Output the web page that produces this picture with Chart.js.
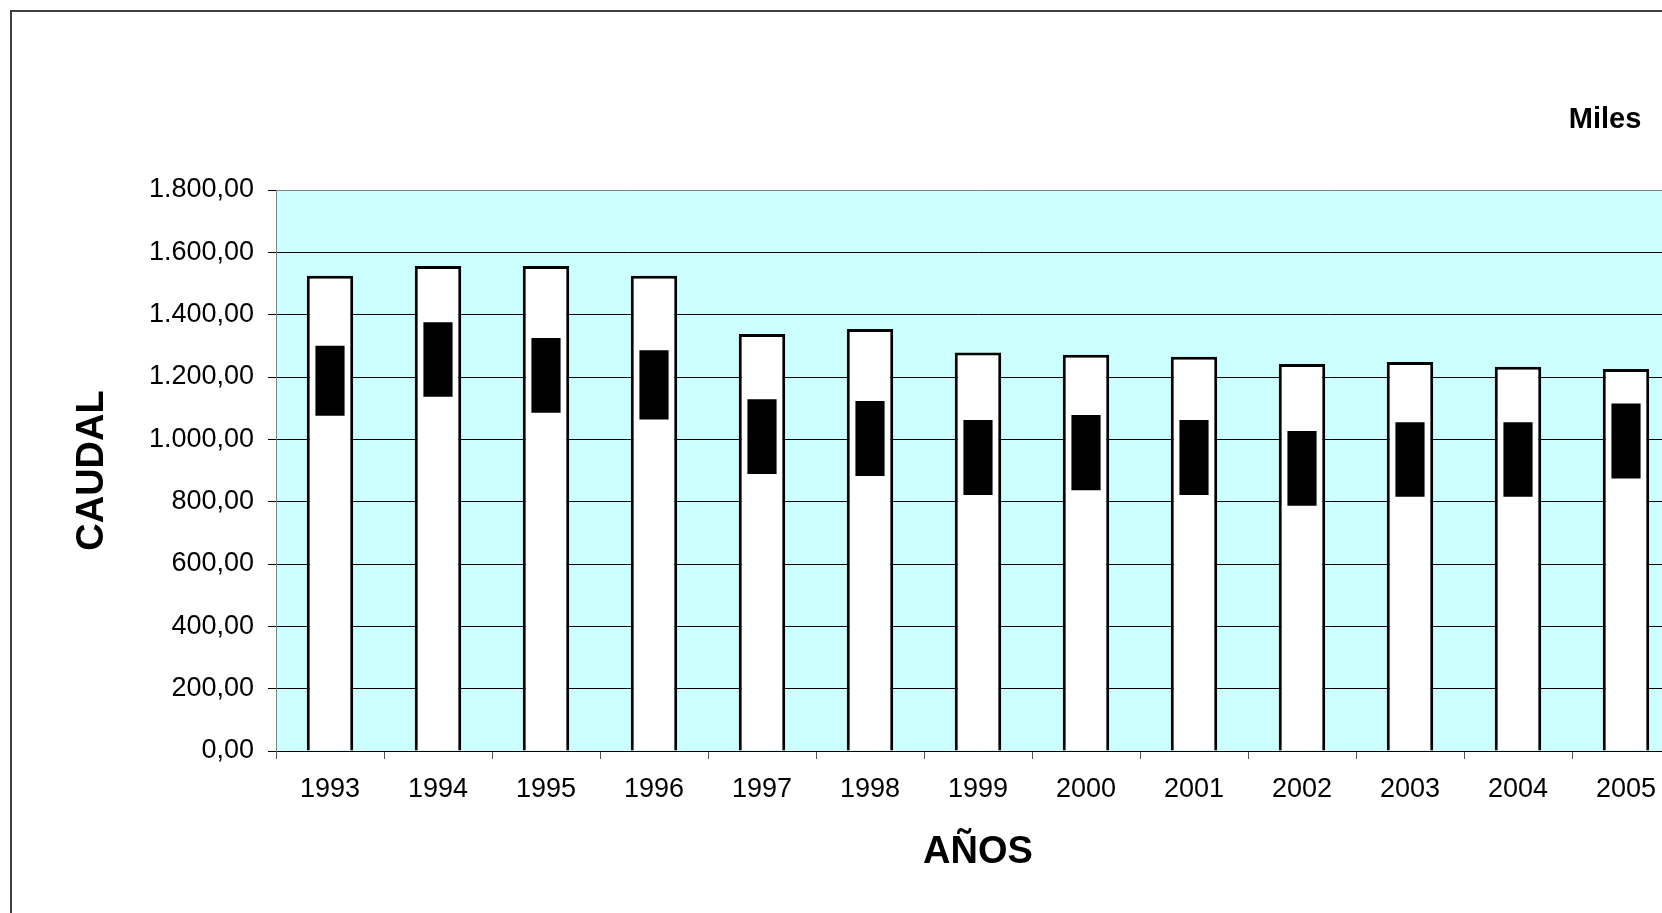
<!DOCTYPE html>
<html>
<head>
<meta charset="utf-8">
<title>Caudal por años</title>
<script src="https://cdn.jsdelivr.net/npm/chart.js@4.4.0/dist/chart.umd.min.js"></script>
<style>
  html, body { margin: 0; padding: 0; background: #fff; overflow: hidden; }
  #marco { position: absolute; left: 10px; top: 10px; width: 2000px; height: 2000px;
           border-left: 2px solid #404040; border-top: 2px solid #404040; }
  #caja { position: absolute; left: 0; top: 0; width: 1700px; height: 913px; }
  #miles { position: absolute; left: 1550px; top: 102px; width: 110px; line-height: 32px;
           text-align: center; font: bold 29px "Liberation Sans", Arial, sans-serif; color: #000; }
</style>
</head>
<body>
<div id="marco"></div>
<div id="caja"><canvas id="grafico"></canvas></div>
<div id="miles">Miles</div>
<script>
const years = ['1993', '1994', '1995', '1996', '1997', '1998', '1999', '2000', '2001', '2002', '2003', '2004', '2005'];
// columna blanca (caudal total)
const caudalTotal = [1525, 1556, 1556, 1525, 1338, 1354, 1279, 1271, 1265, 1242, 1248, 1233, 1226];
// barra negra: máximo y mínimo
const caudalAlto = [1300, 1376, 1325, 1286, 1129, 1123, 1062, 1078, 1062, 1027, 1055, 1055, 1115];
const caudalBajo = [1076, 1137, 1085, 1064, 889, 882, 821, 837, 821, 787, 816, 816, 874];

const yMax = 1800;
const yStep = 200;

function formatoES(v) {
  const partes = v.toFixed(2).split('.');
  return partes[0].replace(/\B(?=(\d{3})+(?!\d))/g, '.') + ',' + partes[1];
}

// fondo celeste del área de trazado
const fondoArea = {
  id: 'fondoArea',
  beforeDraw(chart) {
    const { ctx, chartArea: a } = chart;
    ctx.save();
    ctx.fillStyle = '#CCFFFF';
    ctx.fillRect(a.left, a.top, a.right - a.left, a.bottom - a.top);
    ctx.restore();
  }
};

Chart.defaults.font.family = '"Liberation Sans", Arial, sans-serif';
Chart.defaults.color = '#000';

new Chart(document.getElementById('grafico'), {
  type: 'bar',
  data: {
    labels: years,
    datasets: [
      {
        label: 'Rango',
        data: years.map((_, i) => [caudalBajo[i], caudalAlto[i]]),
        backgroundColor: '#000',
        borderWidth: 0,
        barPercentage: 0.27,
        categoryPercentage: 1,
        grouped: false,
        order: 0
      },
      {
        label: 'Caudal',
        data: caudalTotal,
        backgroundColor: '#fff',
        borderColor: '#000',
        borderWidth: 3,
        barPercentage: 0.43,
        categoryPercentage: 1,
        grouped: false,
        order: 1
      }
    ]
  },
  options: {
    responsive: true,
    maintainAspectRatio: false,
    animation: false,
    layout: { padding: { top: 190, right: 20, bottom: 12, left: 0 } },
    plugins: {
      legend: { display: false },
      tooltip: { enabled: false }
    },
    scales: {
      x: {
        offset: true,
        grid: { display: true, drawOnChartArea: false, offset: true, tickLength: 8, tickColor: '#555' },
        border: { color: '#000', width: 1 },
        ticks: { font: { size: 27 }, padding: 14, maxRotation: 0, autoSkip: false },
        title: { display: true, text: 'AÑOS', font: { size: 38, weight: 'bold' }, padding: { top: 0, bottom: 26 } },
        afterFit(s) { s.height = 150; }
      },
      y: {
        min: 0,
        max: yMax,
        ticks: { stepSize: yStep, font: { size: 27 }, padding: 14, callback: v => formatoES(v) },
        grid: {
          color: c => c.tick && c.tick.value === yMax ? '#808080' : '#000',
          lineWidth: 1,
          tickLength: 8,
          tickColor: '#000'
        },
        border: { color: '#808080', width: 1 },
        title: { display: true, text: 'CAUDAL', font: { size: 38, weight: 'bold' }, padding: { top: 70, bottom: 0 } },
        afterFit(s) { s.width = 276; }
      }
    }
  },
  plugins: [fondoArea]
});
</script>
</body>
</html>
